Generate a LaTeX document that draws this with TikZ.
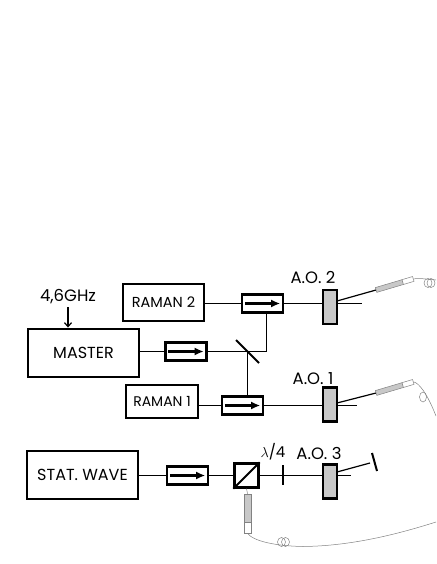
\documentclass[tikz,border=0pt]{standalone}
\usepackage{fontspec}
\setmainfont{Poppins}
\usetikzlibrary{calc,arrows.meta,positioning}
\definecolor{couplerGray}{RGB}{200,200,200}
\definecolor{fiberGray}{RGB}{130,130,130}
\begin{document}
\begin{tikzpicture}[x=1pt, y=-1pt,
  laser/.style={draw, line width=2.9pt, inner sep=0pt, font=\fontsize{16}{16}\selectfont},
  isolator/.style={draw, line width=2.4pt, minimum width=41pt, minimum height=18pt, inner sep=0pt},
  aom/.style={draw, line width=2.2pt, fill=couplerGray, minimum width=14pt, minimum height=34pt, inner sep=0pt},
  beam/.style={line width=1.7pt},
  optic/.style={line width=2pt},
  fiber/.style={line width=0.5pt, color=fiberGray},
  couplerbody/.style={draw=fiberGray, line width=0.5pt, fill=couplerGray, minimum width=28pt, minimum height=5pt, inner sep=0pt},
  couplerend/.style={draw=fiberGray, line width=0.5pt, fill=white, minimum width=11pt, minimum height=5pt, inner sep=0pt},
  lab/.style={inner sep=0pt, font=\fontsize{16.5}{17}\selectfont}]
\useasboundingbox (0,0) rectangle (436,564);

\node[laser, minimum width=81pt, minimum height=37pt, font=\fontsize{14.5}{15}\selectfont] (raman2) at (163.5,302.5) {RAMAN 2};
\node[laser, minimum width=111pt, minimum height=48pt] (master) at (83.5,353) {MASTER};
\node[laser, minimum width=72pt, minimum height=33pt, font=\fontsize{14}{15}\selectfont] (raman1) at (162,401.5) {RAMAN 1};
\node[laser, minimum width=111pt, minimum height=48pt] (stat) at (82.5,475) {STAT. WAVE};

\node[isolator] (iso2) at (262.5,303.5) {};
\node[isolator] (isom) at (186,351.5) {};
\node[isolator] (iso1) at (242.5,405.5) {};
\node[isolator] (isos) at (187.5,475.5) {};

\node[aom] (ao2) at (330,307) {};
\node[aom] (ao1) at (330,404.5) {};
\node[aom] (ao3) at (330,481.5) {};

\node[lab, above=5pt of ao2.north, xshift=-17pt] {A.O. 2};
\node[lab, above=2pt of ao1.north, xshift=-17pt] {A.O. 1};
\node[lab, above=4pt of ao3.north, xshift=-11pt] {A.O. 3};
\node[lab] (rf) at (68,297) {4,6GHz};
\node[lab, font=\fontsize{15}{16}\selectfont] (wave) at (273,452) {$\lambda$/4};

\draw[-{Straight Barb[length=4pt,width=7pt]}, line width=1.2pt] (rf.south) ++(0,3) -- (rf.south |- master.north);

% isolator arrows
\foreach \iso in {iso2,isom,iso1,isos}
  \draw[-{Latex[length=9pt,width=8pt]}, line width=2.2pt] ($(\iso.west)+(4,0)$)--($(\iso.east)+(-4,0)$);

\coordinate (split) at (247.5,351.5);
\coordinate (mirm1) at (236,340);
\coordinate (mirm2) at (259,363);
\coordinate (turn) at (266.5,351.5);
\draw[beam] (raman2.east |- iso2.west)--(iso2.west);
\draw[beam] (master.east |- isom.west)--(isom.west);
\draw[beam] (isom.east)--(turn)--(iso2.south -| turn);
\draw[beam] (split)--(split |- iso1.north);
\draw[optic] (mirm1)--(mirm2);
\draw[beam] (raman1.east |- iso1.west)--(iso1.west);
\draw[beam] (stat.east |- isos.west)--(isos.west);

% AOM orders
\coordinate (out2) at (362,303.5);
\coordinate (out1) at (357,405.5);
\coordinate (out3) at (351,475.5);
\draw[beam] (iso2.east)--(ao2.west |- iso2.east);
\draw[beam] (iso1.east)--(ao1.west |- iso1.east);
\draw[beam] (ao2.east |- out2)--(out2);
\draw[beam] (ao1.east |- out1)--(out1);

% fiber couplers
\node[couplerbody, rotate=16.5] (coup2) at (389.5,286) {};
\node[couplerend, rotate=16.5] (end2) at (408,280.5) {};
\node[couplerbody, rotate=16.5] (coup1) at (389.5,389) {};
\node[couplerend, rotate=16.5] (end1) at (408,383.5) {};
\node[couplerbody, minimum width=7pt, minimum height=28pt] (coup3) at (247.5,508) {};
\node[couplerend, minimum width=7pt, minimum height=11pt] (end3) at (247.5,527.5) {};
\draw[line width=1.2pt] (337,301)--(coup2.west);
\draw[line width=1.2pt] (337,403)--(coup1.west);

% statwave arm
\node[draw, line width=2.4pt, minimum size=24pt, inner sep=0pt] (pbs) at (246.5,475.5) {};
\draw[optic] (pbs.south west)--(pbs.north east);
\coordinate (plate1) at (282.5,465);
\coordinate (plate2) at (282.5,485);
\coordinate (mir1) at (372,453);
\coordinate (mir2) at (377,471);
\draw[beam] (isos.east)--(pbs.west |- isos.east);
\draw[beam] (pbs.east |- isos.east)--(ao3.west |- isos.east);
\draw[beam] (ao3.east |- isos.east)--(out3);
\draw[optic] (plate1)--(plate2);
\draw[line width=1.2pt] (337,472)--(370,463);
\draw[optic] (mir1)--(mir2);

% fibers and loops
\draw[fiber] (end2.east)..controls (420,278) and (425,279) ..(436,280);
\draw[fiber] (428,283) ellipse (4pt and 4.5pt);
\draw[fiber] (431,283) ellipse (4pt and 4.5pt);
\draw[fiber] (end1.east)..controls (419,383) and (427,393) ..(436,416);
\draw[fiber] (423,397) ellipse (3.5pt and 5pt);
\draw[fiber] (pbs.south)--(coup3.north);
\draw[fiber] (end3.south)..controls (253,541) and (275,546) ..(303,546.5)..controls (350,546) and (395,535) ..(436,522);
\draw[fiber] (281.5,542) ellipse (4pt and 4.5pt);
\draw[fiber] (285.5,542) ellipse (4pt and 4.5pt);
\end{tikzpicture}
\end{document}
